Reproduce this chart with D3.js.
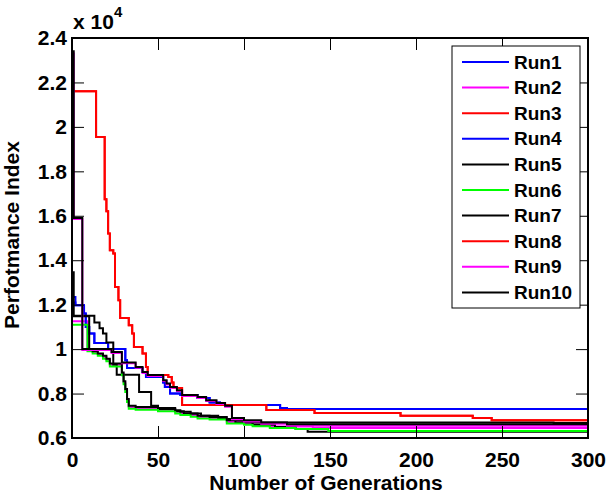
<!DOCTYPE html>
<head>
<meta charset="utf-8">
<script src="https://d3js.org/d3.v7.min.js"></script>
<style>
  body { margin: 0; background: #fff; }
  text { font-family: "Liberation Sans", Arial, Helvetica, sans-serif; font-weight: bold; fill: #000; }
</style>
</head>
<body>
<div id="datavis"></div>
<script>
// values, in units of 10^4, as [generation, value] steps
var run1 = [[0,1.234],[2,1.197],[7,1.16],[8,1.10],[10,1.07],[13,1.027],[21,1.0],[31,0.95],[32,0.915],[41,0.897],[43,0.875],[53,0.85],[54,0.83],[57,0.80],[63,0.793],[73,0.78],[80,0.76],[86,0.748],[121,0.735],[125,0.73]];
var run2 = [[0,1.125],[9,0.998],[12,0.988],[15,0.978],[18,0.965],[20,0.952],[22,0.93],[29,0.89],[30,0.85],[31,0.815],[32,0.77],[33,0.74],[37,0.735],[50,0.727],[60,0.718],[63,0.71],[69,0.703],[73,0.695],[80,0.69],[90,0.672],[100,0.667],[105,0.66],[115,0.652],[140,0.645]];
var run3 = [[0,2.16],[14,1.955],[19,1.674],[20,1.62],[21,1.52],[22,1.445],[24,1.43],[25,1.28],[27,1.22],[28,1.14],[33,1.107],[35,1.07],[36,1.01],[41,0.98],[43,0.92],[44,0.883],[56,0.875],[58,0.85],[59,0.825],[64,0.748],[113,0.726],[141,0.712],[191,0.70],[233,0.69],[244,0.68]];
var run4 = [[0,1.21],[2,1.197],[7,1.16],[8,1.10],[10,1.07],[13,1.027],[21,1.0],[31,0.95],[32,0.915],[41,0.897],[43,0.875],[53,0.85],[54,0.83],[57,0.80],[63,0.793],[73,0.78],[80,0.76],[86,0.748],[121,0.735],[125,0.73]];
var run5 = [[0,1.15],[13,1.12],[16,1.094],[18,1.07],[20,1.03],[24,0.93],[26,0.885],[39,0.807],[46,0.745],[50,0.73],[60,0.72],[65,0.71],[75,0.70],[85,0.685],[95,0.67],[105,0.66],[118,0.65],[130,0.64],[137,0.628]];
var run6 = [[0,1.11],[9,0.99],[12,0.98],[15,0.97],[18,0.957],[20,0.945],[22,0.922],[29,0.882],[30,0.842],[31,0.807],[32,0.762],[33,0.732],[37,0.727],[50,0.72],[60,0.71],[63,0.703],[69,0.696],[73,0.688],[80,0.683],[90,0.665],[100,0.66],[105,0.653],[115,0.645],[130,0.64],[149,0.632]];
var run7 = [[0,1.346],[1,1.148],[10,1.0],[12,0.99],[15,0.98],[18,0.97],[20,0.957],[22,0.935],[29,0.895],[30,0.855],[31,0.82],[32,0.776],[33,0.745],[37,0.74],[50,0.735],[60,0.725],[63,0.718],[69,0.71],[73,0.7],[80,0.695],[90,0.68],[100,0.675],[105,0.67],[280,0.667]];
var run8 = [[0,2.16],[14,1.955],[19,1.674],[20,1.62],[21,1.52],[22,1.445],[24,1.43],[25,1.28],[27,1.22],[28,1.14],[33,1.107],[35,1.07],[36,1.01],[41,0.98],[43,0.92],[44,0.883],[56,0.875],[58,0.85],[59,0.825],[64,0.748],[113,0.726],[141,0.712],[191,0.70],[233,0.69],[244,0.68]];
var run9 = [[0,2.33],[1,1.585],[6,0.996],[23,0.983],[29,0.936],[37,0.916],[41,0.893],[44,0.879],[53,0.856],[55,0.841],[57,0.826],[61,0.811],[64,0.789],[73,0.780],[78,0.766],[84,0.753],[89,0.741],[93,0.684],[100,0.674],[110,0.664],[125,0.655]];
var run10 = [[0,2.34],[1,1.59],[6,1.0],[23,0.987],[29,0.94],[37,0.92],[41,0.897],[44,0.883],[53,0.86],[55,0.845],[57,0.83],[61,0.815],[64,0.793],[73,0.784],[78,0.77],[84,0.757],[89,0.745],[93,0.69],[100,0.68],[110,0.67],[125,0.662]];

var runNames = ["Run1","Run2","Run3","Run4","Run5","Run6","Run7","Run8","Run9","Run10"];
var runColors = ["#0000ff","#ff00ff","#ff0000","#0000ff","#000000","#00ff00","#000000","#ff0000","#ff00ff","#000000"];
var runs = [run1, run2, run3, run4, run5, run6, run7, run8, run9, run10];

var xTicks = [0, 50, 100, 150, 200, 250, 300];
var yTicks = [0.6, 0.8, 1.0, 1.2, 1.4, 1.6, 1.8, 2.0, 2.2, 2.4];

var margin = {top: 38, right: 18, bottom: 58, left: 72},
    width = 516,
    height = 400;

var svg = d3.select("#datavis")
            .append("svg")
            .attr("width", 606)
            .attr("height", 496)
            .append("g")
            .attr("transform", "translate(" + margin.left + "," + margin.top + ")");

var x = d3.scaleLinear().domain([0, 300]).range([0, width]);
var y = d3.scaleLinear().domain([0.6, 2.4]).range([height, 0]);

svg.append("clipPath").attr("id", "clip")
   .append("rect").attr("width", width).attr("height", height);

// lines, drawn in order so later runs sit on top
var line = d3.line()
             .x(function(d) { return x(d[0]); })
             .y(function(d) { return y(d[1]); })
             .curve(d3.curveStepAfter);

runs.forEach(function(r, i) {
  var pts = r.concat([[300, r[r.length - 1][1]]]);
  svg.append("path")
     .datum(pts)
     .attr("clip-path", "url(#clip)")
     .attr("fill", "none")
     .attr("stroke", runColors[i])
     .attr("stroke-width", 2)
     .attr("d", line);
});

// axes with inward ticks
var fmt = function(d) { return d3.format("~g")(+d.toFixed(1)); };
svg.append("g").attr("transform", "translate(0," + height + ")")
   .call(d3.axisBottom(x).tickValues(xTicks).tickSize(-12).tickSizeOuter(0).tickPadding(14));
svg.append("g")
   .call(d3.axisLeft(y).tickValues(yTicks).tickSize(-12).tickSizeOuter(0).tickPadding(5).tickFormat(fmt));
svg.append("g")
   .call(d3.axisTop(x).tickValues(xTicks).tickSize(-12).tickSizeOuter(0).tickFormat(""));
svg.append("g").attr("transform", "translate(" + width + ",0)")
   .call(d3.axisRight(y).tickValues(yTicks).tickSize(-12).tickSizeOuter(0).tickFormat(""));

svg.selectAll(".domain").remove();
svg.selectAll(".tick line").attr("stroke", "#000").attr("stroke-width", 1);
svg.selectAll(".tick text").style("font-size", "21px").style("font-family", "'Liberation Sans', Arial, sans-serif").style("font-weight", "bold").attr("fill", "#000");

svg.append("rect")
   .attr("width", width).attr("height", height)
   .attr("fill", "none").attr("stroke", "#000").attr("stroke-width", 2);

// exponent label
var ex = svg.append("text").attr("x", 1).attr("y", -9).style("font-size", "21px");
ex.append("tspan").text("x 10");
ex.append("tspan").attr("dy", -12).style("font-size", "15px").text("4");

// axis titles
svg.append("text")
   .attr("x", width / 2 - 4).attr("y", height + 52)
   .attr("text-anchor", "middle").style("font-size", "21px")
   .text("Number of Generations");

svg.append("text")
   .attr("transform", "translate(-53," + (height / 2 - 3) + ") rotate(-90)")
   .attr("text-anchor", "middle").style("font-size", "21px")
   .text("Perfotmance Index");

// legend
var lg = svg.append("g").attr("transform", "translate(" + (452 - margin.left) + "," + (46 - margin.top) + ")");
lg.append("rect").attr("width", 128).attr("height", 262)
  .attr("fill", "#fff").attr("stroke", "#000").attr("stroke-width", 1);
var item = lg.selectAll(".item").data(runNames).enter().append("g")
  .attr("transform", function(d, i) { return "translate(0," + (16 + i * 25.6) + ")"; });
item.append("line").attr("x1", 10).attr("x2", 57)
  .attr("stroke", function(d, i) { return runColors[i]; }).attr("stroke-width", 2);
item.append("text").attr("x", 62).attr("dy", "0.35em").style("font-size", "19px")
  .text(function(d) { return d; });
</script>
</body>
